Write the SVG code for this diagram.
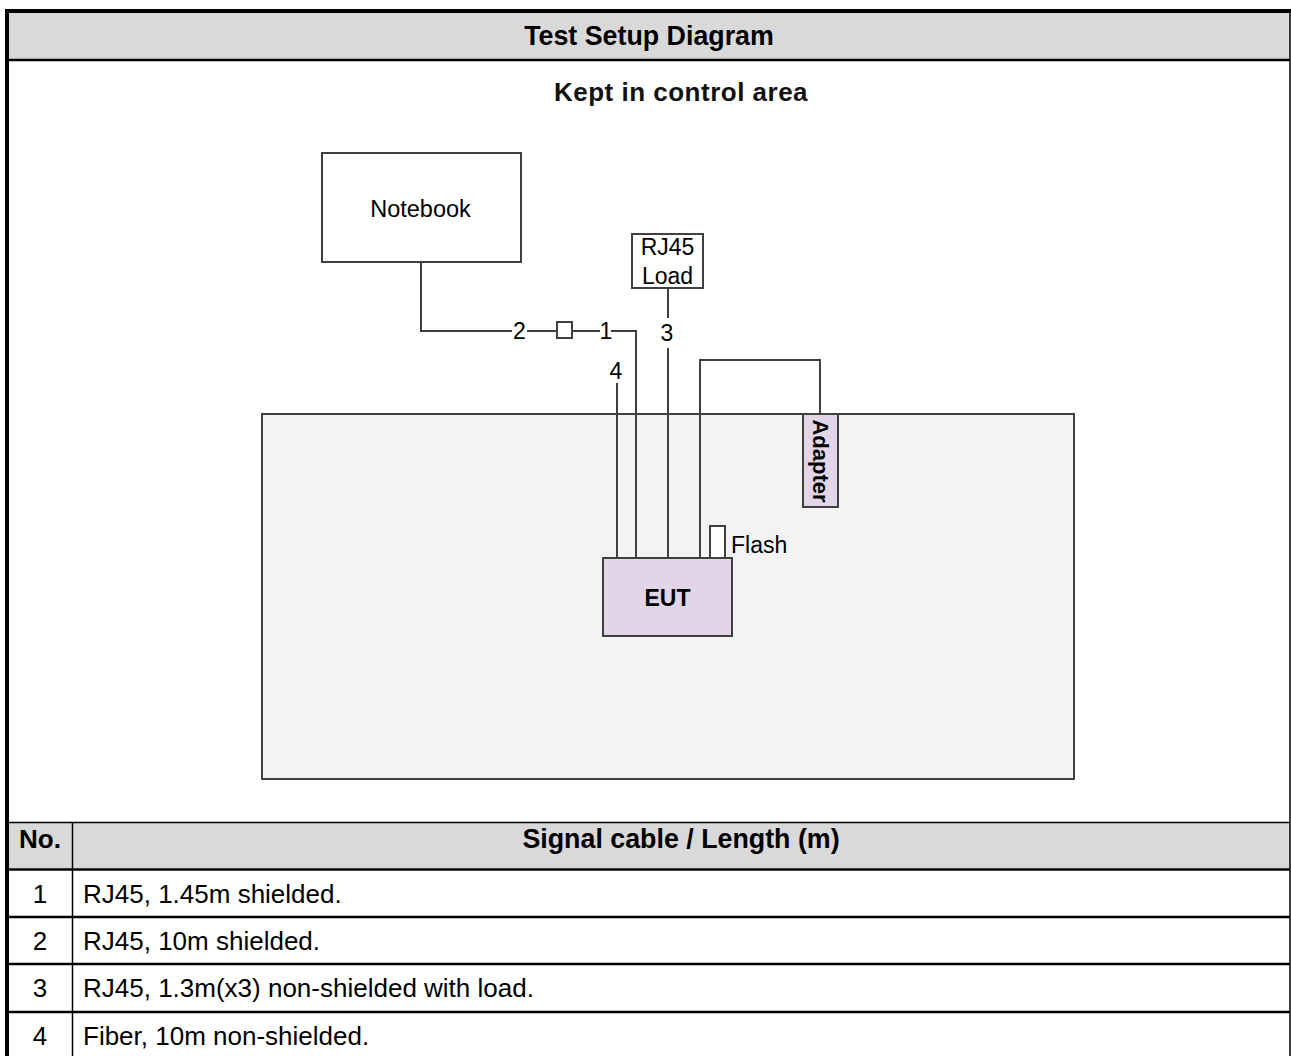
<svg xmlns="http://www.w3.org/2000/svg" width="1291" height="1056" viewBox="0 0 1291 1056">
<style>
  .t { font-family: "Liberation Sans", Arial, sans-serif; fill: #000; }
  .b { font-weight: bold; }
  .box { stroke: #404040; stroke-width: 2; }
  .wire { fill: none; stroke: #404040; stroke-width: 2; }
  .grid { stroke: #000; }
</style>
<rect x="0" y="0" width="1291" height="1056" fill="#fff"/>
<rect x="7" y="11" width="1283" height="49" fill="#d9d9d9"/>
<rect x="7" y="822" width="1283" height="48" fill="#d9d9d9"/>
<g id="frame" class="grid">
  <line x1="5" y1="11" x2="1291" y2="11" stroke-width="4"/>
  <line x1="7" y1="9" x2="7" y2="1056" stroke-width="4"/>
  <line x1="1290" y1="9" x2="1290" y2="1056" stroke-width="1.5"/>
  <line x1="7" y1="60" x2="1290" y2="60" stroke-width="2.5"/>
  <line x1="7" y1="822.5" x2="1290" y2="822.5" stroke-width="1.5"/>
  <line x1="7" y1="869.5" x2="1290" y2="869.5" stroke-width="2.5"/>
  <line x1="7" y1="917" x2="1290" y2="917" stroke-width="2.5"/>
  <line x1="7" y1="964" x2="1290" y2="964" stroke-width="2.5"/>
  <line x1="7" y1="1012" x2="1290" y2="1012" stroke-width="2.5"/>
  <line x1="72.5" y1="822" x2="72.5" y2="1056" stroke-width="1.5"/>
</g>
<text class="t b" x="649" y="45" font-size="26.8" text-anchor="middle">Test Setup Diagram</text>
<text class="t b" x="681" y="101" font-size="26" letter-spacing="0.5" text-anchor="middle" style="fill:#111">Kept in control area</text>

<g id="area">
  <rect x="262" y="414" width="812" height="365" fill="#f3f3f3" class="box"/>
</g>

<g id="connectors">
  <polyline class="wire" points="421,262 421,331 512,331"/>
  <line class="wire" x1="527" y1="331" x2="557" y2="331"/>
  <line class="wire" x1="572" y1="331" x2="600" y2="331"/>
  <polyline class="wire" points="611,331 636,331 636,558"/>
  <line class="wire" x1="668" y1="288" x2="668" y2="318"/>
  <line class="wire" x1="668" y1="348" x2="668" y2="558"/>
  <line class="wire" x1="617" y1="383" x2="617" y2="558"/>
  <polyline class="wire" points="700,558 700,360 820,360 820,414"/>
  <text class="t" x="519.5" y="339" font-size="23" text-anchor="middle">2</text>
  <text class="t" x="606" y="339" font-size="23" text-anchor="middle">1</text>
  <text class="t" x="667" y="341" font-size="23" text-anchor="middle">3</text>
  <text class="t" x="616" y="379" font-size="23" text-anchor="middle">4</text>
</g>

<g id="coupler">
  <rect x="557" y="322" width="15" height="16" fill="#fff" class="box"/>
</g>

<g id="notebook">
  <rect x="322" y="153" width="199" height="109" fill="#fff" class="box"/>
  <text class="t" x="420.5" y="217" font-size="23.5" text-anchor="middle">Notebook</text>
</g>

<g id="rj45load">
  <rect x="632" y="234" width="71" height="54" fill="#fff" class="box"/>
  <text class="t" x="667.5" y="255" font-size="23" text-anchor="middle">RJ45</text>
  <text class="t" x="667.5" y="284" font-size="23" text-anchor="middle">Load</text>
</g>

<g id="adapter">
  <rect x="803" y="414" width="35" height="93" fill="#e1d5e7" class="box"/>
  <text class="t b" transform="translate(813,461) rotate(90)" font-size="22" text-anchor="middle">Adapter</text>
</g>

<g id="flash">
  <rect x="710" y="526" width="15" height="32" fill="#fff" class="box"/>
  <text class="t" x="731" y="553" font-size="23">Flash</text>
</g>

<g id="eut">
  <rect x="603" y="558" width="129" height="78" fill="#e1d5e7" class="box"/>
  <text class="t b" x="667.5" y="606" font-size="23" text-anchor="middle">EUT</text>
</g>

<g id="table">
  <text class="t b" x="40" y="848" font-size="26" text-anchor="middle">No.</text>
  <text class="t b" x="681" y="848" font-size="26.8" text-anchor="middle">Signal cable / Length (m)</text>
  <text class="t" x="40" y="903" font-size="26" text-anchor="middle">1</text>
  <text class="t" x="83" y="903" font-size="26">RJ45, 1.45m shielded.</text>
  <text class="t" x="40" y="950" font-size="26" text-anchor="middle">2</text>
  <text class="t" x="83" y="950" font-size="26">RJ45, 10m shielded.</text>
  <text class="t" x="40" y="997" font-size="26" text-anchor="middle">3</text>
  <text class="t" x="83" y="997" font-size="26">RJ45, 1.3m(x3) non-shielded with load.</text>
  <text class="t" x="40" y="1045" font-size="26" text-anchor="middle">4</text>
  <text class="t" x="83" y="1045" font-size="26">Fiber, 10m non-shielded.</text>
</g>
</svg>
